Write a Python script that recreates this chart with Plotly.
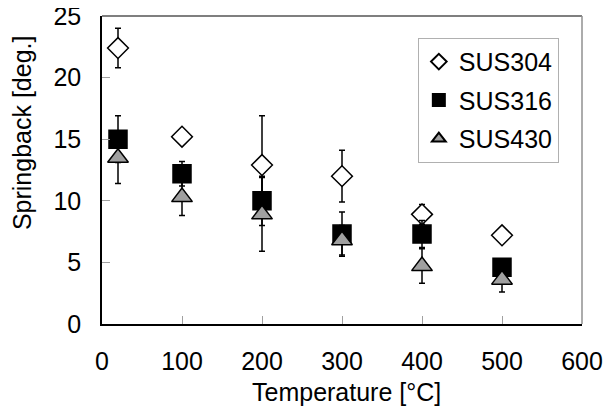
import plotly.graph_objects as go

temps = [20, 100, 200, 300, 400, 500]
sus304 = [22.4, 15.2, 12.9, 12.0, 8.9, 7.2]
sus304_err = [1.6, 0.3, 4.0, 2.1, 0.8, 0.3]
sus316 = [15.0, 12.2, 10.0, 7.3, 7.3, 4.6]
sus316_err = [1.9, 1.0, 2.0, 1.8, 1.1, 0.4]
sus430 = [13.5, 10.3, 8.9, 6.8, 4.7, 3.6]
sus430_err = [2.1, 1.5, 3.0, 1.2, 1.4, 1.0]

x_ticks = [0, 100, 200, 300, 400, 500, 600]
y_ticks = [0, 5, 10, 15, 20, 25]

FONT = "Liberation Sans, Arial, sans-serif"

series = [
    ("SUS304", sus304, sus304_err, "diamond", "white", 16),
    ("SUS316", sus316, sus316_err, "square", "black", 18),
    ("SUS430", sus430, sus430_err, "triangle-up", "#a0a0a0", 18),
]

fig = go.Figure()
for i, (name, ys, errs, sym, fill, size) in enumerate(series):
    fig.add_trace(go.Scatter(
        x=temps, y=ys, mode="markers", name=name, legendgroup=name,
        marker=dict(symbol=sym, size=size, color=fill,
                    line=dict(color="black", width=1.5)),
        error_y=dict(type="data", array=errs, visible=True,
                     color="black", thickness=1.5, width=3),
    ))

fig.update_layout(
    width=615, height=407,
    margin=dict(l=94, r=41, t=8, b=91),
    paper_bgcolor="white", plot_bgcolor="white",
    font=dict(family=FONT, size=25, color="black"),
    showlegend=True,
    legend=dict(
        x=0.658, y=0.929, xanchor="left", yanchor="top",
        bgcolor="white", bordercolor="#b0b0b0", borderwidth=1,
        font=dict(family=FONT, size=25, color="black"),
        itemsizing="constant", traceorder="grouped", tracegroupgap=3,
    ),
    xaxis=dict(
        range=[0, 600], tickvals=x_ticks, ticktext=[str(v) for v in x_ticks],
        showgrid=False, zeroline=False, automargin=False,
        showline=True, linecolor="black", linewidth=1.5,
        ticks="inside", ticklen=8, tickcolor="#a0a0a0", tickwidth=1,
        ticklabelstandoff=14, ticklabeloverflow="allow",
        tickfont=dict(family=FONT, size=25, color="black"),
    ),
    yaxis=dict(
        range=[0, 25], tickvals=y_ticks, ticktext=[str(v) for v in y_ticks],
        showgrid=False, zeroline=False, automargin=False,
        showline=True, linecolor="black", linewidth=1.5,
        ticks="inside", ticklen=8, tickcolor="#a0a0a0", tickwidth=1,
        ticklabelstandoff=14, ticklabeloverflow="allow",
        tickfont=dict(family=FONT, size=25, color="black"),
    ),
    shapes=[
        dict(type="line", xref="paper", yref="paper", x0=0, x1=1, y0=1, y1=1,
             line=dict(color="#555555", width=1.5), layer="below"),
        dict(type="line", xref="paper", yref="paper", x0=1, x1=1, y0=0, y1=1,
             line=dict(color="#909090", width=1.5), layer="below"),
    ],
    annotations=[
        dict(text="Springback [deg.]", xref="paper", yref="paper",
             x=-0.1667, y=0.623, xanchor="center", yanchor="middle",
             textangle=-90, showarrow=False,
             font=dict(family=FONT, size=25, color="black")),
        dict(text="Temperature [°C]", xref="paper", yref="paper",
             x=0.51, y=-0.22, xanchor="center", yanchor="middle",
             showarrow=False,
             font=dict(family=FONT, size=25, color="black")),
    ],
)

fig.write_html("out.html")
